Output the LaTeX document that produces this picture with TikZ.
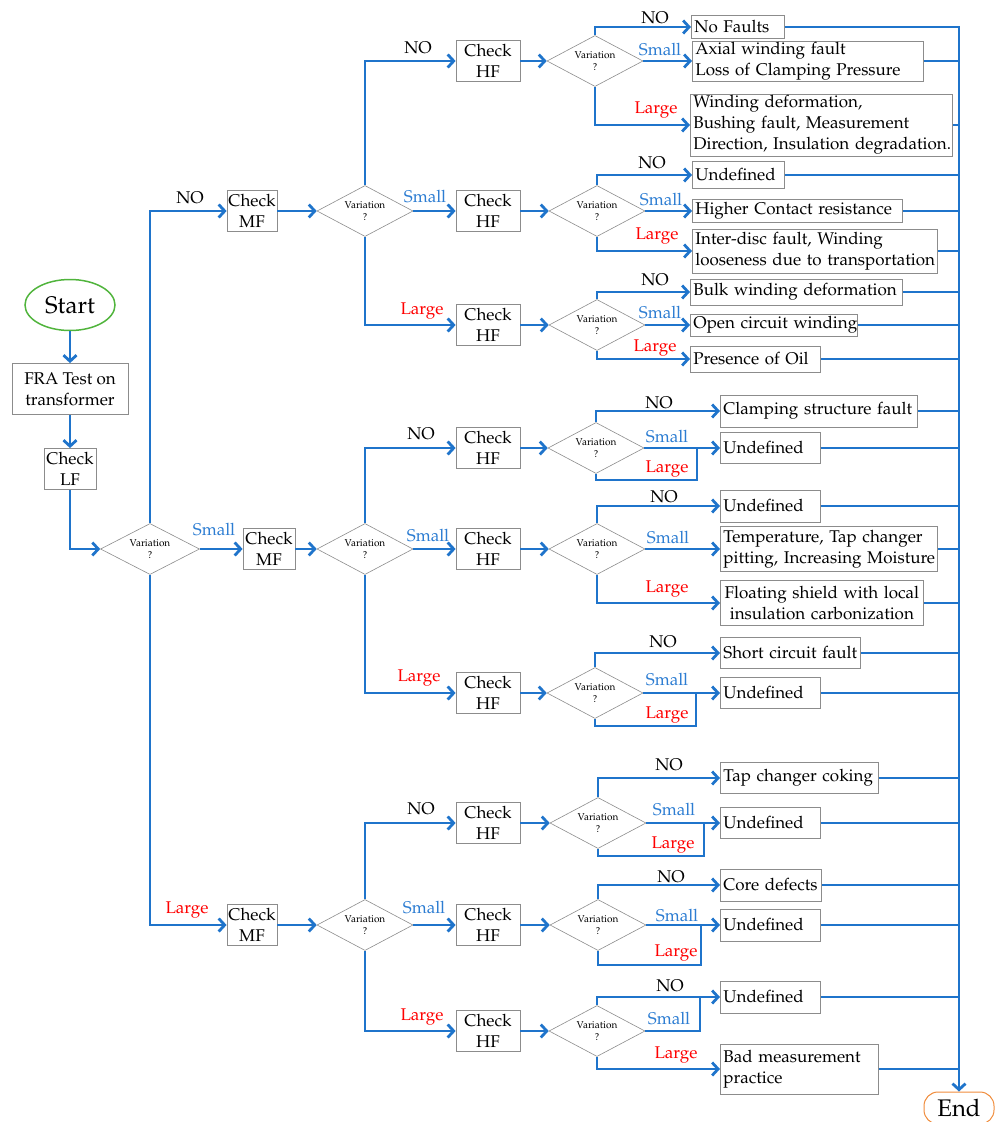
\documentclass[tikz,border=0pt]{standalone}
\usepackage[T1]{fontenc}
\renewcommand{\rmdefault}{ppl}
\usetikzlibrary{shapes.geometric,arrows.meta}
\definecolor{fblue}{RGB}{31,116,203}
\definecolor{lblue}{RGB}{45,125,210}
\definecolor{lred}{RGB}{255,0,0}
\definecolor{bgray}{RGB}{140,140,140}
\definecolor{sgreen}{RGB}{80,180,60}
\definecolor{eorange}{RGB}{240,140,60}
\newcommand\bfnt{\fontsize{17}{21}\selectfont}
\tikzset{
  flow/.style={draw=fblue, line width=2.8pt, -{Straight Barb[length=6pt,width=13pt]}},
  link/.style={draw=fblue, line width=2.8pt},
  box/.style={draw=bgray, line width=0.8pt, align=center, inner sep=1pt, font=\bfnt},
  rbox/.style={draw=bgray, line width=0.8pt, anchor=west, align=left, inner xsep=3pt, inner ysep=1pt, font=\bfnt},
  dia/.style={diamond, draw=bgray, line width=0.6pt, shape aspect=1.9, minimum width=96, minimum height=51, inner sep=0pt, align=center, font=\fontsize{10}{11.5}\selectfont},
  nolab/.style={inner sep=0pt, font=\bfnt, text=black},
  smlab/.style={inner sep=0pt, font=\bfnt, text=lblue},
  lglab/.style={inner sep=0pt, font=\bfnt, text=lred},
}
\begin{document}
\begin{tikzpicture}[x=1pt,y=-1pt]
\useasboundingbox (0,0) rectangle (996,1122);
% left column
\node[ellipse, draw=sgreen, line width=1.5pt, minimum width=90, minimum height=51, font=\fontsize{24}{28}\selectfont] (start) at (70,305) {Start};
\node[box, minimum width=116, minimum height=51] (fra) at (70,389) {FRA Test on\\transformer};
\node[box, minimum width=52, minimum height=41] (lf) at (70,469) {Check\\LF};
\node[dia, minimum width=99] (d1) at (150,549) {Variation\\?};
% MF boxes
\node[box, minimum width=50, minimum height=41] (ma) at (252,211) {Check\\MF};
\node[box, minimum width=52, minimum height=41] (mb) at (269,549) {Check\\MF};
\node[box, minimum width=50, minimum height=41] (mc) at (252,925) {Check\\MF};
% level 2 diamonds
\node[dia] (d2a) at (365,211) {Variation\\?};
\node[dia] (d2b) at (365,549) {Variation\\?};
\node[dia] (d2c) at (365,925) {Variation\\?};
% HF boxes
\foreach \n/\yy in {ha1/61,ha2/211,ha3/325,hb1/448,hb2/549,hb3/693,hc1/823,hc2/925,hc3/1031}
  \node[box, minimum width=64, minimum height=41] (\n) at (488,\yy) {Check\\HF};
% level 3 diamonds
\node[dia] (a1) at (595,61) {Variation\\?};
\node[dia] (a2) at (597,211) {Variation\\?};
\node[dia] (a3) at (597,325) {Variation\\?};
\node[dia] (b1) at (596,448) {Variation\\?};
\node[dia] (b2) at (597,549) {Variation\\?};
\node[dia] (b3) at (595,693) {Variation\\?};
\node[dia] (c1) at (598,823) {Variation\\?};
\node[dia] (c2) at (598,925) {Variation\\?};
\node[dia] (c3) at (597,1031) {Variation\\?};
% result boxes
\node[rbox, text width=87, minimum height=23] (r1) at (691,27) {No Faults};
\node[rbox, text width=225, minimum height=39] (r2) at (692,61) {\mbox{Axial winding fault}\\\mbox{Loss of Clamping Pressure}};
\node[rbox, text width=256, minimum height=62] (r3) at (690,125) {\mbox{Winding deformation,}\\\mbox{Bushing fault, Measurement}\\\mbox{Direction, Insulation degradation.}};
\node[rbox, text width=86, minimum height=27] (r4) at (692,175) {Undefined};
\node[rbox, text width=204, minimum height=23] (r5) at (692,211) {\mbox{Higher Contact resistance}};
\node[rbox, text width=239, minimum height=44] (r6) at (692,251) {\mbox{Inter-disc fault, Winding}\\\mbox{looseness due to transportation}};
\node[rbox, text width=206, minimum height=26] (r7) at (690,292) {\mbox{Bulk winding deformation}};
\node[rbox, text width=161, minimum height=22] (r8) at (690,325) {\mbox{Open circuit winding}};
\node[rbox, text width=124, minimum height=26] (r9) at (690,359) {\mbox{Presence of Oil}};
\node[rbox, text width=191, minimum height=32] (r10) at (720,411) {\mbox{Clamping structure fault}};
\node[rbox, text width=94, minimum height=31] (r11) at (720,448) {Undefined};
\node[rbox, text width=94, minimum height=32] (r12) at (720,506) {Undefined};
\node[rbox, text width=211, minimum height=45] (r13) at (720,549) {\mbox{Temperature, Tap changer}\\\mbox{pitting, Increasing Moisture}};
\node[rbox, align=center, text width=197, minimum height=45] (r14) at (720,603) {\mbox{Floating shield with local}\\\mbox{insulation carbonization}};
\node[rbox, text width=134, minimum height=31] (r15) at (720,653) {\mbox{Short circuit fault}};
\node[rbox, text width=94, minimum height=31] (r16) at (720,693) {Undefined};
\node[rbox, text width=152, minimum height=31] (r17) at (720,778) {\mbox{Tap changer coking}};
\node[rbox, text width=94, minimum height=31] (r18) at (720,823) {Undefined};
\node[rbox, text width=95, minimum height=32] (r19) at (720,885) {\mbox{Core defects}};
\node[rbox, text width=94, minimum height=32] (r20) at (720,925) {Undefined};
\node[rbox, text width=94, minimum height=32] (r21) at (720,997) {Undefined};
\node[rbox, text width=152, minimum height=50] (r22) at (720,1069) {\mbox{Bad measurement}\\practice};
% end
\node[draw=eorange, line width=1pt, rounded corners=14pt, minimum width=70, minimum height=32, inner sep=1pt, font=\fontsize{24}{26}\selectfont] (end) at (959,1108) {End};
% junction coordinates
\coordinate (kb1) at (697,480);
\coordinate (kb3) at (696,726);
\coordinate (kc1) at (704,856);
\coordinate (kc2) at (701,965);
\coordinate (kc3) at (700,1031);
% connectors left part
\draw[flow] (start.south) -- (fra.north);
\draw[flow] (fra.south) -- (lf.north);
\draw[flow] (lf.south) |- (d1.west);
\draw[flow] (d1.north) |- (ma.west);
\draw[flow] (d1.east) -- (mb.west);
\draw[flow] (d1.south) |- (mc.west);
\draw[flow] (ma.east) -- (d2a.west);
\draw[flow] (mb.east) -- (d2b.west);
\draw[flow] (mc.east) -- (d2c.west);
\foreach \d/\p in {d2a/ha, d2b/hb, d2c/hc} {
  \draw[flow] (\d.north) |- (\p1.west);
  \draw[flow] (\d.east) -- (\p2.west);
  \draw[flow] (\d.south) |- (\p3.west);
}
\foreach \h/\d in {ha1/a1,ha2/a2,ha3/a3,hb1/b1,hb2/b2,hb3/b3,hc1/c1,hc2/c2,hc3/c3}
  \draw[flow] (\h.east) -- (\d.west);
% level 3 branches, full three-way
\foreach \d/\ra/\rb/\rc in {a1/r1/r2/r3, a2/r4/r5/r6, a3/r7/r8/r9, b2/r12/r13/r14} {
  \draw[flow] (\d.north) |- (\ra.west);
  \draw[flow] (\d.east) -- (\rb.west);
  \draw[flow] (\d.south) |- (\rc.west);
}
% branches where Large joins Small
\foreach \d/\ra/\rb/\k in {b1/r10/r11/kb1, b3/r15/r16/kb3, c1/r17/r18/kc1, c2/r19/r20/kc2} {
  \draw[flow] (\d.north) |- (\ra.west);
  \draw[flow] (\d.east) -- (\rb.west);
  \draw[link] (\d.south) |- (\k) -- (\k |- \rb.west);
}
% last diamond: Small joins NO
\draw[flow] (c3.north) |- (r21.west);
\draw[link] (c3.east) -- (kc3) -- (kc3 |- r21.west);
\draw[flow] (c3.south) |- (r22.west);
% right bus
\draw[flow] (r1.east) -| (end.north);
\foreach \r in {r2,r3,r4,r5,r6,r7,r8,r9,r10,r11,r12,r13,r14,r15,r16,r17,r18,r19,r20,r21,r22}
  \draw[link] (\r.east) -- (\r.east -| end.north);
% labels
\node[nolab] (t1) at (190,198) {NO};
\node[smlab] (t2) at (214,530) {Small};
\node[lglab] (t3) at (187,910) {Large};
\node[nolab] (t4) at (418,48) {NO};
\node[smlab] (t5) at (425,197) {Small};
\node[lglab] (t6) at (422,311) {Large};
\node[nolab] (t7) at (421,434) {NO};
\node[smlab] (t8) at (428,536) {Small};
\node[lglab] (t9) at (419,678) {Large};
\node[nolab] (t10) at (421,809) {NO};
\node[smlab] (t11) at (424,908) {Small};
\node[lglab] (t12) at (422,1017) {Large};
\node[nolab] (t13) at (655,18) {NO};
\node[smlab] (t14) at (660,50) {Small};
\node[lglab] (t15) at (656,110) {Large};
\node[nolab] (t16) at (652,163) {NO};
\node[smlab] (t17) at (661,200) {Small};
\node[lglab] (t18) at (657,236) {Large};
\node[nolab] (t19) at (655,280) {NO};
\node[smlab] (t20) at (660,313) {Small};
\node[lglab] (t21) at (655,348) {Large};
\node[nolab] (t22) at (659,403) {NO};
\node[smlab] (t23) at (667,437) {Small};
\node[lglab] (t24) at (667,469) {Large};
\node[nolab] (t25) at (664,497) {NO};
\node[smlab] (t26) at (668,538) {Small};
\node[lglab] (t27) at (667,589) {Large};
\node[nolab] (t28) at (663,642) {NO};
\node[smlab] (t29) at (667,680) {Small};
\node[lglab] (t30) at (667,715) {Large};
\node[nolab] (t31) at (669,765) {NO};
\node[smlab] (t32) at (674,810) {Small};
\node[lglab] (t33) at (673,845) {Large};
\node[nolab] (t34) at (671,877) {NO};
\node[smlab] (t35) at (677,916) {Small};
\node[lglab] (t36) at (676,953) {Large};
\node[nolab] (t37) at (670,986) {NO};
\node[smlab] (t38) at (669,1019) {Small};
\node[lglab] (t39) at (676,1055) {Large};
\end{tikzpicture}
\end{document}
